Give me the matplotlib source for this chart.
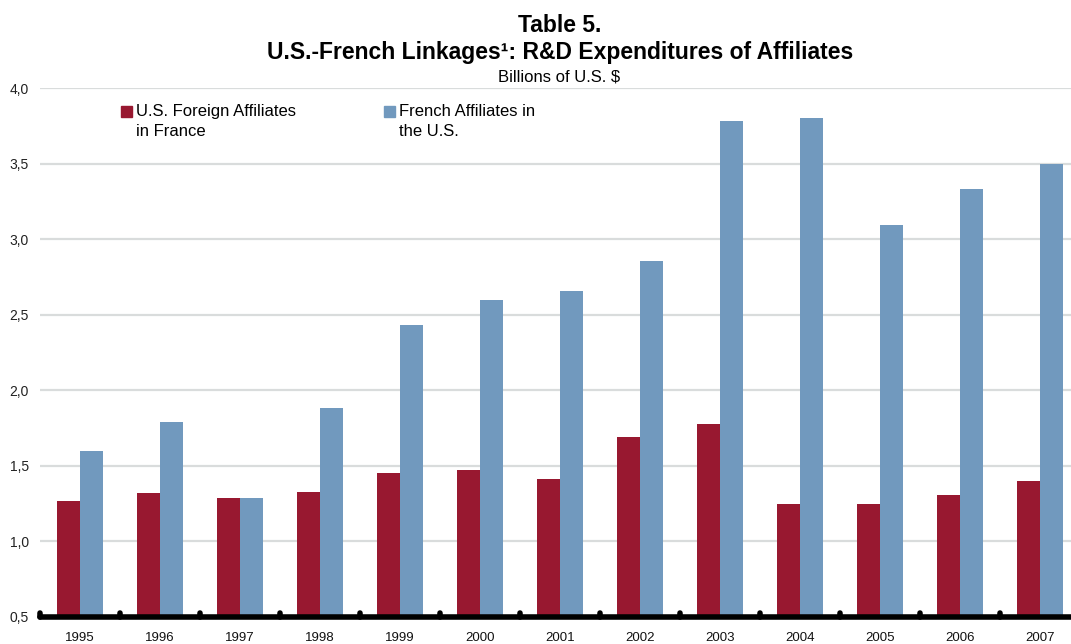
import matplotlib
matplotlib.use("Agg")
import matplotlib.pyplot as plt
import matplotlib.transforms as mtransforms
import numpy as np
from matplotlib.ticker import FixedLocator, FuncFormatter

plt.rcParams['font.family'] = ['Liberation Sans', 'DejaVu Sans']

years = ['1995', '1996', '1997', '1998', '1999', '2000', '2001',
         '2002', '2003', '2004', '2005', '2006', '2007']
us_in_france = [1.27, 1.32, 1.285, 1.33, 1.45, 1.47, 1.41,
                1.69, 1.78, 1.245, 1.245, 1.305, 1.40]
french_in_us = [1.60, 1.79, 1.285, 1.885, 2.435, 2.595, 2.66,
                2.855, 3.78, 3.80, 3.095, 3.335, 3.50]
series_names = [['U.S. Foreign Affiliates', 'in France'],
                ['French Affiliates in', 'the U.S.']]
y_ticks = [0.5, 1.0, 1.5, 2.0, 2.5, 3.0, 3.5, 4.0]

RED = '#981830'
BLUE = '#7199be'

W, H = 1071, 644
fig = plt.figure(figsize=(W / 100, H / 100), dpi=100)
fig.patch.set_facecolor('white')

left, right, top, bottom = 40, 1080, 88, 617
ax = fig.add_axes([left / W, 1 - bottom / H, (right - left) / W, (bottom - top) / H])

x = np.arange(len(years))
bw = 0.2875
ax.bar(x - bw / 2, np.array(us_in_france) - 0.5, bw, bottom=0.5, color=RED, zorder=3)
ax.bar(x + bw / 2, np.array(french_in_us) - 0.5, bw, bottom=0.5, color=BLUE, zorder=3)

ax.set_xlim(-0.5, len(years) - 0.5)
ax.set_ylim(0.5, 4.0)

for s in ['top', 'right', 'left']:
    ax.spines[s].set_visible(False)
ax.spines['bottom'].set_linewidth(4)
ax.spines['bottom'].set_color('black')
ax.spines['bottom'].set_capstyle('round')
ax.spines['bottom'].set_zorder(5)

ax.yaxis.set_major_locator(FixedLocator(y_ticks))
ax.yaxis.set_major_formatter(FuncFormatter(lambda v, p: f'{v:.1f}'.replace('.', ',')))
ax.grid(axis='y', color='#d9dcdc', linewidth=1.6, zorder=0)
ax.tick_params(axis='y', length=0, pad=8, labelsize=10, labelcolor='#222222')

ax.set_xticks(x)
ax.set_xticklabels(years)
ax.tick_params(axis='x', which='major', length=0, pad=11, labelsize=9.5, labelcolor='#111111')

# Rounded category separators on the axis line
trans = mtransforms.blended_transform_factory(ax.transData, ax.transAxes)
for b in np.arange(-0.5, len(years) - 0.5, 1.0):
    ax.plot([b, b], [0.0, 0.008], transform=trans, color='black', linewidth=4,
            solid_capstyle='round', clip_on=False, zorder=6)

# Titles
fig.text(560 / W, 1 - 25 / H, 'Table 5.', ha='center', va='center',
         fontsize=16.5, fontweight='bold')
fig.text(560 / W, 1 - 53 / H, 'U.S.-French Linkages\u00b9: R&D Expenditures of Affiliates',
         ha='center', va='center', fontsize=16.5, fontweight='bold')
fig.text(559 / W, 1 - 77 / H, 'Billions of U.S. $', ha='center', va='center', fontsize=12)

# Legend
for (sx, col, lines) in [(121, RED, series_names[0]), (384, BLUE, series_names[1])]:
    fig.patches.append(plt.Rectangle((sx / W, 1 - 116.5 / H), 11 / W, 11 / H,
                                     transform=fig.transFigure, color=col))
    for i, ln in enumerate(lines):
        fig.text((sx + 15) / W, 1 - (116 + 20 * i) / H, ln, ha='left', va='baseline',
                 fontsize=12)

fig.savefig('out.png', dpi=100, facecolor='white')
